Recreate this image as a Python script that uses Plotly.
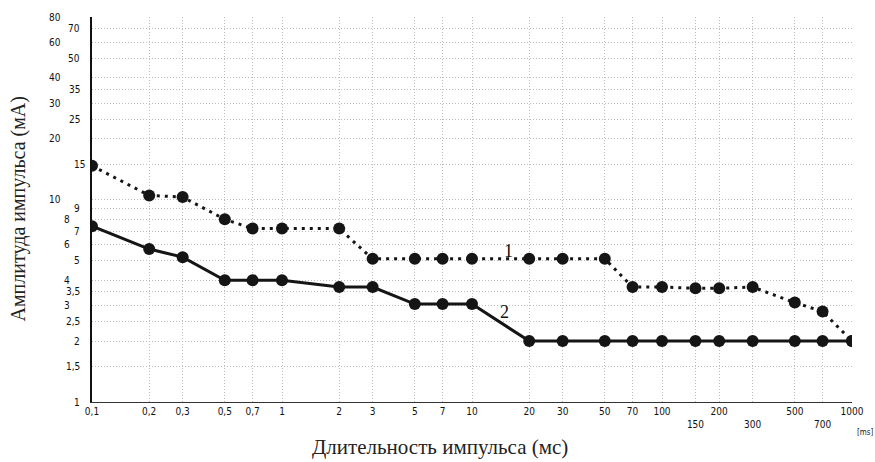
import math
import plotly.graph_objects as go

# ---- data ----
durations_ms = [0.1, 0.2, 0.3, 0.5, 0.7, 1, 2, 3, 5, 7, 10, 20, 30, 50, 70, 100, 150, 200, 300, 500, 700, 1000]
curve1_mA = [14.7, 10.5, 10.3, 8.0, 7.2, 7.2, 7.2, 5.1, 5.1, 5.1, 5.1, 5.1, 5.1, 5.1, 3.7, 3.7, 3.65, 3.65, 3.7, 3.1, 2.8, 2.0]
curve2_mA = [7.4, 5.7, 5.2, 4.0, 4.0, 4.0, 3.7, 3.7, 3.05, 3.05, 3.05, 2.0, 2.0, 2.0, 2.0, 2.0, 2.0, 2.0, 2.0, 2.0, 2.0, 2.0]

x_tick_vals = [0.1, 0.2, 0.3, 0.5, 0.7, 1, 2, 3, 5, 7, 10, 20, 30, 50, 70, 100, 150, 200, 300, 500, 700, 1000]
x_tick_text = ["0,1", "0,2", "0,3", "0,5", "0,7", "1", "2", "3", "5", "7", "10", "20", "30", "50", "70",
               "100", "<br>150", "200", "<br>300", "500", "<br>700", "1000"]
y_tick_vals = [1, 1.5, 2, 2.5, 3, 3.5, 4, 5, 6, 7, 8, 9, 10, 15, 20, 25, 30, 35, 40, 50, 60, 70, 80]
y_tick_text = ["1", "1,5", "2", "2,5", "3", "3,5", "4", "5", "6", "7", "8", "9", "10", "15", "20", "25",
               "30", "35", "40", "50", "60", "70", "80"]

x_title = "Длительность импульса (мс)"
y_title = "Амплитуда импульса (мА)"
unit_label = "[ms]"
curve_names = ["1", "2"]
curve_label_pos = [(15.5, 5.6), (14.9, 2.79)]  # (ms, mA) anchor of the "1" / "2" labels

# ---- styles ----
tick_font = dict(family="DejaVu Sans Condensed, Liberation Sans Narrow, Liberation Sans", size=10, color="#111")
serif = "Liberation Serif, Times New Roman, serif"
# distance of y tick label right edge from axis, by label
y_label_gap = {"80": 29, "60": 29, "40": 29, "30": 29, "20": 29, "10": 29,
               "8": 20, "6": 20, "4": 20, "3": 20, "15": 5}

fig = go.Figure()
fig.add_trace(go.Scatter(
    x=durations_ms, y=curve1_mA, mode="lines+markers", name=curve_names[0],
    line=dict(color="#151515", width=3, dash="3px,5px"),
    marker=dict(color="#151515", size=12), showlegend=False))
fig.add_trace(go.Scatter(
    x=durations_ms, y=curve2_mA, mode="lines+markers", name=curve_names[1],
    line=dict(color="#151515", width=3),
    marker=dict(color="#151515", size=12), showlegend=False))

annotations = []
for v, t in zip(y_tick_vals, y_tick_text):
    annotations.append(dict(
        x=0, xref="paper", y=math.log10(v), yref="y", text=t, showarrow=False,
        xanchor="right", yanchor="middle", xshift=-y_label_gap.get(t, 10), font=tick_font))

# curve labels
for name, (lx, ly) in zip(curve_names, curve_label_pos):
    annotations.append(dict(x=math.log10(lx), y=math.log10(ly), xref="x", yref="y", text=name,
                            showarrow=False, font=dict(family=serif, size=18, color="#111")))
# axis titles
annotations.append(dict(x=0.458, xref="paper", y=0, yref="paper", yshift=-45, text=x_title,
                        showarrow=False, xanchor="center", yanchor="middle",
                        font=dict(family=serif, size=21, color="#222")))
annotations.append(dict(x=0, xref="paper", xshift=-74, y=0.5, yref="paper", text=y_title,
                        textangle=-90, showarrow=False, xanchor="center", yanchor="middle",
                        font=dict(family=serif, size=20, color="#222")))
annotations.append(dict(x=1, xref="paper", xshift=13, y=0, yref="paper", yshift=-30, text=unit_label,
                        showarrow=False, xanchor="center", yanchor="middle",
                        font=dict(family="DejaVu Sans Condensed, Liberation Sans", size=8, color="#222")))

fig.update_layout(
    width=875, height=462,
    margin=dict(l=92, r=23, t=17, b=60),
    paper_bgcolor="white", plot_bgcolor="white",
    annotations=annotations,
    xaxis=dict(type="log", range=[-1, 3], tickmode="array", tickvals=x_tick_vals, ticktext=x_tick_text,
               showgrid=True, gridcolor="#bdbdbd", griddash="1px,2px", gridwidth=1,
               showline=True, linecolor="#333", linewidth=1, ticks="", tickfont=tick_font,
               zeroline=False),
    yaxis=dict(type="log", range=[0, math.log10(80)], tickmode="array", tickvals=y_tick_vals,
               showticklabels=False, showgrid=True, gridcolor="#bdbdbd", griddash="1px,2px", gridwidth=1,
               showline=True, linecolor="#111", linewidth=2, ticks="", zeroline=False),
)

# remove the page's default body margin and scrollbars so the figure fills the window exactly
page_fix = ("document.body.style.margin='0';document.body.style.overflow='hidden';"
            "document.documentElement.style.overflow='hidden';")
fig.write_html("out.html", post_script=page_fix, config={"displayModeBar": False})
